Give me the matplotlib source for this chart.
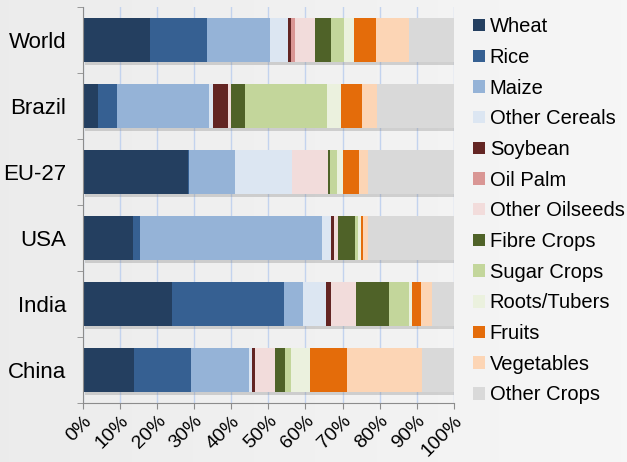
import numpy as np
import matplotlib.pyplot as plt
from matplotlib.patches import Patch

plt.rcParams['font.family'] = ['Liberation Sans', 'DejaVu Sans']

regions = ['World', 'Brazil', 'EU-27', 'USA', 'India', 'China']
crops = ['Wheat', 'Rice', 'Maize', 'Other Cereals', 'Soybean', 'Oil Palm',
         'Other Oilseeds', 'Fibre Crops', 'Sugar Crops', 'Roots/Tubers',
         'Fruits', 'Vegetables', 'Other Crops']
colors = ['#243f60', '#366092', '#95b3d7', '#dce6f2', '#632523', '#d99694',
          '#f2dcdb', '#4f6228', '#c3d69b', '#ebf1de', '#e46c0a', '#fcd5b5',
          '#d9d9d9']

# share of area (%) per crop, one row per region
world  = [18.1, 15.5, 16.8, 4.8, 0.9, 1.1, 5.4, 4.3, 3.4, 2.9, 5.8, 9.0, 12.0]
brazil = [4.2, 4.9, 25.0, 0.9, 4.2, 0.0, 0.7, 3.8, 22.0, 3.9, 5.5, 4.1, 20.8]
eu27   = [28.3, 0.3, 12.4, 15.3, 0.0, 0.0, 9.9, 0.4, 1.8, 1.6, 4.5, 2.4, 23.1]
usa    = [13.4, 2.1, 48.9, 2.5, 0.9, 0.0, 0.9, 4.6, 0.9, 0.7, 0.7, 1.3, 23.1]
india  = [24.0, 30.1, 5.2, 6.2, 1.4, 0.0, 6.6, 9.0, 5.5, 0.8, 2.3, 3.1, 5.8]
china  = [13.9, 15.3, 15.6, 0.7, 0.9, 0.0, 5.4, 2.7, 1.6, 5.2, 9.9, 20.3, 8.5]

data = np.array([world, brazil, eu27, usa, india, china])
data = data / data.sum(axis=1, keepdims=True) * 100

fig = plt.figure(figsize=(6.27, 4.62), dpi=100)

# light grey gradient background
bg = fig.add_axes([0, 0, 1, 1], zorder=-10)
grad = np.linspace(0.925, 0.965, 256).reshape(1, -1)
bg.imshow(np.dstack([grad, grad, grad]), aspect='auto', extent=[0, 1, 0, 1])
bg.axis('off')

ax = fig.add_axes([0.132, 0.128, 0.592, 0.857])
ax.patch.set_alpha(0)

y = np.arange(len(regions))[::-1]
h = 0.66

# drop shadow under each bar
ax.barh(y - 0.05, np.full(len(regions), 100.0), left=0.6, height=h,
        color='#7f7f7f', alpha=0.3, zorder=1)

left = np.zeros(len(regions))
for i, crop in enumerate(crops):
    ax.barh(y, data[:, i], left=left, height=h, color=colors[i],
            label=crop, zorder=2)
    left += data[:, i]

ax.set_xlim(0, 100)
ax.set_ylim(-0.5, len(regions) - 0.5)
ax.set_xticks(np.arange(0, 101, 10))
ax.set_xticklabels([f'{v}%' for v in range(0, 101, 10)], rotation=45,
                   ha='right', va='top', rotation_mode='anchor', fontsize=14)
ax.set_yticks(y)
ax.set_yticklabels(regions, fontsize=16)
ax.set_yticks(np.arange(-0.5, len(regions), 1), minor=True)
ax.tick_params(axis='y', which='major', length=0, pad=12)
ax.tick_params(axis='y', which='minor', length=4, color='#8c8c8c')
ax.tick_params(axis='x', length=4, color='#8c8c8c', pad=3)

ax.grid(axis='x', color='#c3d3ee', linewidth=1, zorder=0)
ax.set_axisbelow(True)
for s in ['top', 'right']:
    ax.spines[s].set_visible(False)
for s in ['left', 'bottom']:
    ax.spines[s].set_color('#8c8c8c')

handles = [Patch(facecolor=c, label=l) for c, l in zip(colors, crops)]
fig.legend(handles=handles, loc='upper left', bbox_to_anchor=(0.742, 0.98),
           frameon=False, fontsize=14.5, handlelength=0.57, handleheight=0.57,
           handletextpad=0.25, labelspacing=0.58, borderaxespad=0)

fig.savefig('out.png', dpi=100)
